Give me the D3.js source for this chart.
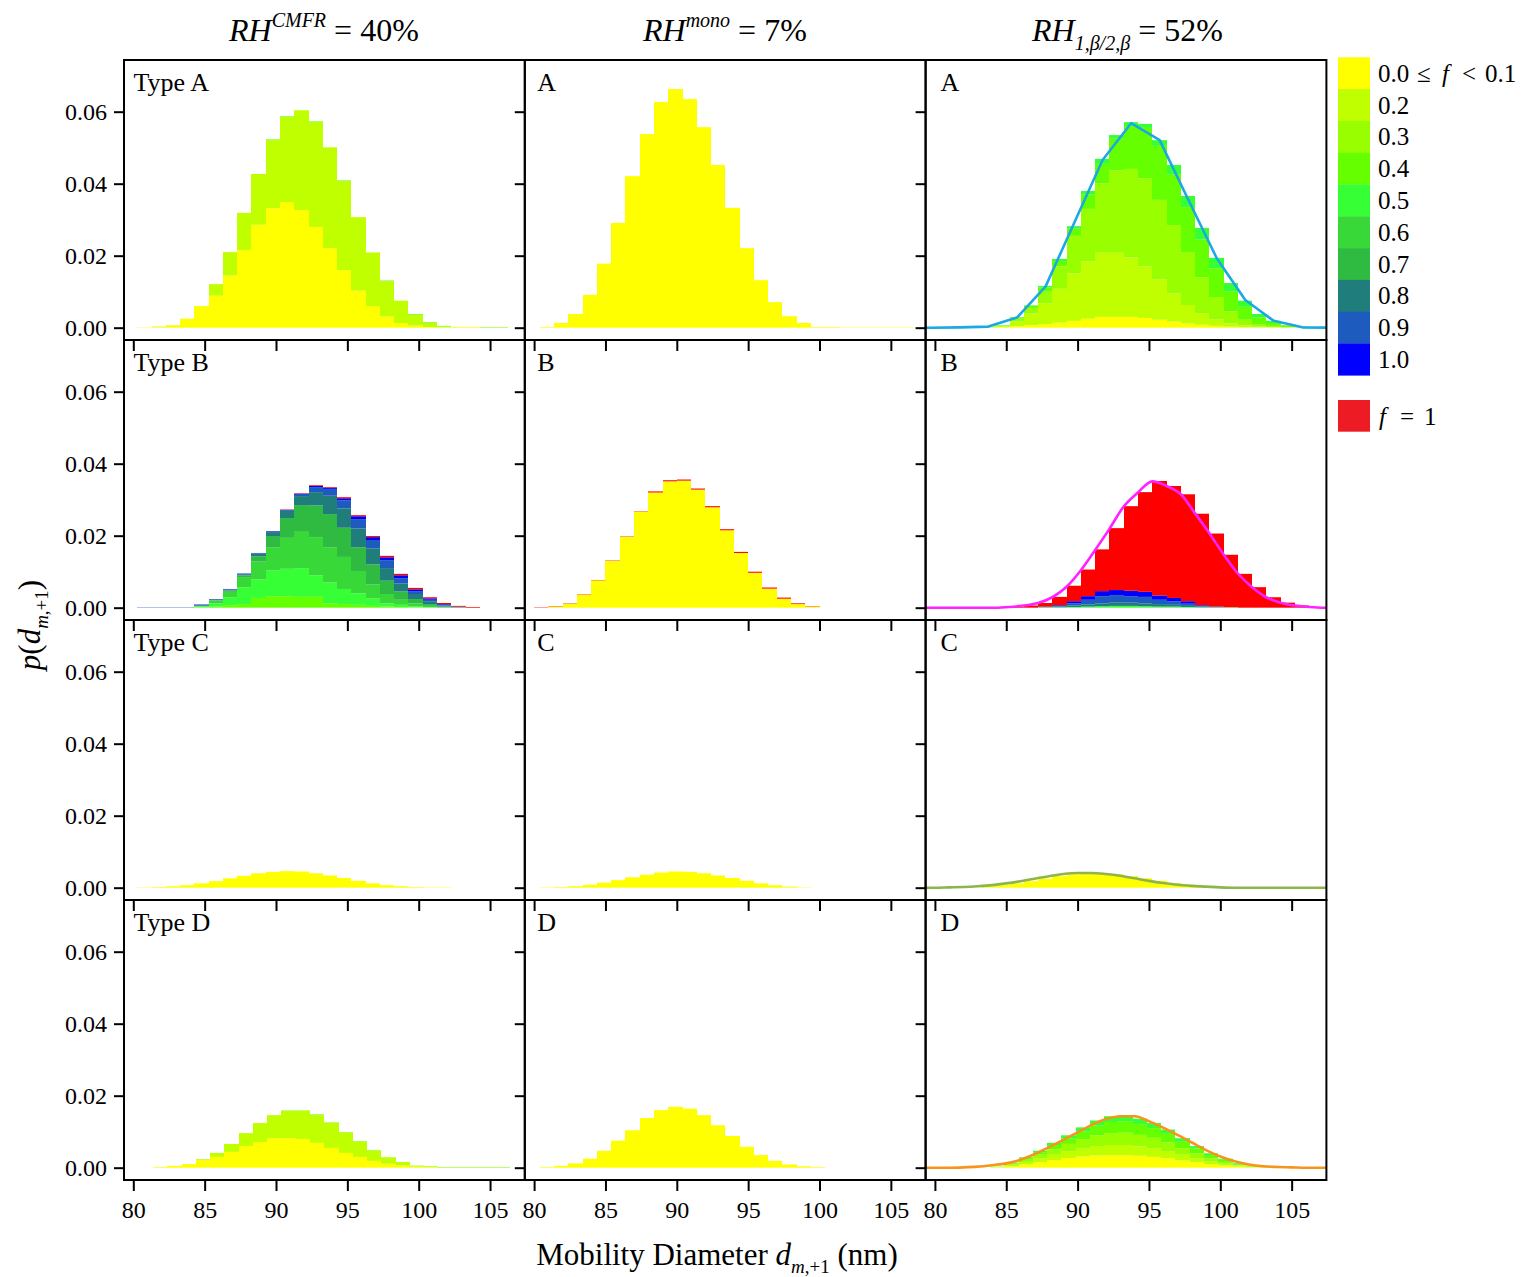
<!DOCTYPE html>
<html>
<head>
<meta charset="utf-8">
<script src="https://cdn.jsdelivr.net/npm/d3@7"></script>
<style>
  body { margin: 0; background: #fff; }
  text { font-family: "Liberation Serif", "Times New Roman", serif; fill: #000; }
</style>
</head>
<body>
<svg id="chart" width="1525" height="1277"></svg>
<script>
// ---------- axes & legend ----------
const xTicks = [80, 85, 90, 95, 100, 105];
const yTicks = [0, 0.02, 0.04, 0.06];
const yTickLabels = ["0.00", "0.02", "0.04", "0.06"];
const classLabels = ["0.0 \u2264 f < 0.1", "0.2", "0.3", "0.4", "0.5", "0.6", "0.7", "0.8", "0.9", "1.0"];
const classColors = ["#ffff00", "#bfff00", "#99ff00", "#66ff00", "#36ff36", "#38d838", "#2fba42", "#1f7d7b", "#1e5bbf", "#0000ff"];
const fullColor = "#ff0000";       // f = 1 in the panels
const fullLegendColor = "#ed1c24";
const rowLabels = [["Type A", "A", "A"], ["Type B", "B", "B"], ["Type C", "C", "C"], ["Type D", "D", "D"]];

// ---------- histogram data: cumulative top of each f-class, one entry per 1 nm bin ----------
// RH_CMFR, type A (bins start at 80.28 nm)
const cmfrA_start = 80.28;
const cmfrA_f1 = [0.0001,0.0002,0.0006,0.0025,0.0060,0.0089,0.0145,0.0216,0.0286,0.0332,0.0349,0.0327,0.0280,0.0221,0.0160,0.0103,0.0060,0.0031,0.0013,0.0006,0.0002,0.0001,0.0002,0.0002,0,0];
const cmfrA_f2 = [0.0001,0.0003,0.0007,0.0025,0.0060,0.0121,0.0210,0.0319,0.0427,0.0521,0.0585,0.0604,0.0571,0.0501,0.0407,0.0307,0.0209,0.0129,0.0075,0.0036,0.0013,0.0004,0.0002,0.0002,0.0001,0.0001];
const cmfrA_f4 = [0.0001,0.0003,0.0007,0.0025,0.0060,0.0121,0.0210,0.0319,0.0427,0.0523,0.0587,0.0604,0.0573,0.0501,0.0409,0.0307,0.0209,0.0131,0.0075,0.0038,0.0015,0.0005,0.0002,0.0002,0.0002,0.0002];

// RH_mono, type A
const monoA_start = 80.4;
const monoA_f1 = [0.0002,0.0013,0.0038,0.0091,0.0178,0.0291,0.0421,0.0538,0.0627,0.0663,0.0635,0.0557,0.0452,0.0333,0.0221,0.0132,0.0071,0.0032,0.0013,0.0002,0.0002,0.0001,0.0001,0.0001,0.0001,0.0001,0.0001];

// RH_1,b/2,b, type A
const rhbA_start = 80.23;
const rhbA_f1 = [0,0,0,0.0001,0.0002,0.0004,0.0007,0.0010,0.0014,0.0019,0.0025,0.0030,0.0030,0.0030,0.0027,0.0022,0.0017,0.0012,0.0008,0.0005,0.0003,0.0002,0.0001,0.0001,0.0001,0.0001];
const rhbA_f2 = [0,0,0,0.0002,0.0004,0.0017,0.0040,0.0068,0.0108,0.0151,0.0184,0.0208,0.0208,0.0195,0.0170,0.0134,0.0095,0.0063,0.0040,0.0023,0.0012,0.0006,0.0003,0.0002,0.0001,0.0001];
const rhbA_f3 = [0,0,0,0.0002,0.0005,0.0025,0.0055,0.0100,0.0170,0.0255,0.0330,0.0401,0.0437,0.0441,0.0415,0.0355,0.0285,0.0210,0.0140,0.0085,0.0045,0.0022,0.0010,0.0005,0.0002,0.0001];
const rhbA_f4 = [0,0,0,0.0003,0.0006,0.0029,0.0062,0.0112,0.0185,0.0275,0.0370,0.0455,0.0525,0.0560,0.0555,0.0505,0.0425,0.0335,0.0245,0.0165,0.0100,0.0058,0.0028,0.0013,0.0005,0.0002];
const rhbA_f5 = [0,0,0,0.0003,0.0007,0.0029,0.0062,0.0116,0.0191,0.0282,0.0380,0.0469,0.0535,0.0571,0.0566,0.0521,0.0452,0.0366,0.0277,0.0194,0.0124,0.0075,0.0038,0.0019,0.0007,0.0003];

// RH_CMFR, type B
const cmfrB_start = 80.28;
const cmfrB_f4  = [0,0,0,0,0.0001,0.0003,0.0007,0.0010,0.0027,0.0032,0.0032,0.0030,0.0030,0.0012,0.0010,0.0008,0.0005,0.0003,0.0002,0.0001,0,0,0,0];
const cmfrB_f5  = [0,0,0,0,0.0004,0.0012,0.0029,0.0057,0.0079,0.0103,0.0108,0.0110,0.0090,0.0070,0.0052,0.0040,0.0026,0.0012,0.0008,0.0004,0.0001,0,0,0];
const cmfrB_f6  = [0,0,0,0,0.0005,0.0020,0.0044,0.0085,0.0128,0.0168,0.0194,0.0213,0.0196,0.0168,0.0141,0.0102,0.0065,0.0038,0.0022,0.0012,0.0005,0.0001,0,0];
const cmfrB_f7  = [0,0,0,0,0.0005,0.0021,0.0048,0.0090,0.0143,0.0199,0.0249,0.0285,0.0284,0.0260,0.0222,0.0168,0.0120,0.0075,0.0045,0.0024,0.0010,0.0003,0.0001,0];
const cmfrB_f8  = [0,0,0,0,0.0007,0.0022,0.0050,0.0093,0.0150,0.0210,0.0269,0.0310,0.0321,0.0311,0.0276,0.0220,0.0165,0.0110,0.0067,0.0038,0.0018,0.0006,0.0002,0];
const cmfrB_f9  = [0.0001,0.0001,0.0001,0.0001,0.0008,0.0023,0.0051,0.0094,0.0151,0.0212,0.0272,0.0316,0.0335,0.0330,0.0298,0.0246,0.0188,0.0132,0.0082,0.0046,0.0022,0.0008,0.0002,0];
const cmfrB_f10 = [0.0001,0.0001,0.0001,0.0001,0.0009,0.0024,0.0052,0.0095,0.0152,0.0213,0.0272,0.0317,0.0338,0.0333,0.0304,0.0254,0.0196,0.0140,0.0090,0.0051,0.0026,0.0010,0.0003,0];
const cmfrB_full = [0.0001,0.0001,0.0001,0.0001,0.0009,0.0024,0.0052,0.0095,0.0152,0.0213,0.0273,0.0318,0.0340,0.0335,0.0307,0.0257,0.0199,0.0144,0.0094,0.0055,0.0029,0.0013,0.0005,0.0002];

// RH_mono, type B
const monoB_start = 80.0;
const monoB_f1 = [0,0.0003,0.0011,0.0036,0.0076,0.0130,0.0197,0.0267,0.0320,0.0351,0.0353,0.0328,0.0279,0.0215,0.0152,0.0097,0.0053,0.0025,0.0010,0.0003];
const monoB_full = [0.0001,0.0004,0.0012,0.0037,0.0077,0.0131,0.0198,0.0268,0.0323,0.0354,0.0356,0.0331,0.0282,0.0218,0.0155,0.0100,0.0056,0.0028,0.0012,0.0004];

// RH_1,b/2,b, type B
const rhbB_start = 80.23;
const rhbB_f5  = [0,0,0,0,0,0,0,0.0001,0.0001,0.0002,0.0003,0.0004,0.0005,0.0005,0.0004,0.0003,0.0003,0.0002,0.0001,0.0001,0.0001];
const rhbB_f8  = [0,0,0,0,0,0,0,0.0002,0.0003,0.0006,0.0009,0.0012,0.0015,0.0014,0.0012,0.0010,0.0008,0.0005,0.0003,0.0001,0.0001];
const rhbB_f9  = [0,0,0,0,0,0,0,0.0002,0.0005,0.0012,0.0022,0.0032,0.0035,0.0032,0.0030,0.0022,0.0018,0.0011,0.0005,0.0002,0.0001];
const rhbB_f10 = [0,0,0,0,0,0,0,0.0003,0.0007,0.0018,0.0032,0.0046,0.0049,0.0047,0.0044,0.0034,0.0027,0.0018,0.0007,0.0003,0.0001];
const rhbB_full = [0,0,0,0,0,0.0002,0.0006,0.0013,0.0030,0.0061,0.0106,0.0162,0.0221,0.0282,0.0321,0.0352,0.0338,0.0315,0.0261,0.0206,0.0147,0.0094,0.0057,0.0029,0.0014,0.0006,0.0002];

// type C
const cmfrC_start = 80.28;
const cmfrC_f1 = [0.0001,0.0002,0.0004,0.0007,0.0012,0.0018,0.0026,0.0033,0.0040,0.0044,0.0046,0.0045,0.0040,0.0034,0.0027,0.0019,0.0012,0.0007,0.0004,0.0002,0.0001,0.0001];
const monoC_start = 80.4;
const monoC_f1 = [0.0001,0.0002,0.0004,0.0008,0.0014,0.0021,0.0029,0.0036,0.0042,0.0045,0.0044,0.0040,0.0034,0.0027,0.0019,0.0012,0.0007,0.0003,0.0001];
const rhbC_start = 80.23;
const rhbC_f1 = [0,0,0,0.0004,0.0007,0.0012,0.0018,0.0025,0.0032,0.0037,0.0040,0.0040,0.0037,0.0032,0.0026,0.0019,0.0013,0.0008,0.0005,0.0003,0.0001];

// type D
const cmfrD_start = 80.38;
const cmfrD_f1 = [0,0.0002,0.0005,0.0010,0.0022,0.0030,0.0044,0.0060,0.0071,0.0082,0.0082,0.0080,0.0069,0.0055,0.0041,0.0030,0.0019,0.0011,0.0006,0.0003,0.0001,0,0,0,0,0];
const cmfrD_f2 = [0,0.0002,0.0005,0.0010,0.0023,0.0041,0.0066,0.0096,0.0124,0.0146,0.0158,0.0158,0.0146,0.0125,0.0098,0.0073,0.0048,0.0029,0.0016,0.0006,0.0004,0.0001,0.0001,0.0001,0.0001,0.0001];
const cmfrD_f4 = [0,0.0002,0.0005,0.0010,0.0024,0.0041,0.0066,0.0096,0.0124,0.0146,0.0159,0.0159,0.0148,0.0126,0.0099,0.0074,0.0049,0.0029,0.0016,0.0006,0.0004,0.0002,0.0002,0.0002,0.0002,0.0002];
const monoD_start = 80.4;
const monoD_f1 = [0.0002,0.0005,0.0012,0.0025,0.0047,0.0075,0.0104,0.0138,0.0160,0.0169,0.0164,0.0146,0.0118,0.0088,0.0058,0.0035,0.0019,0.0009,0.0004,0.0002];
const rhbD_start = 80.86;
const rhbD_f1 = [0,0,0,0.0001,0.0004,0.0009,0.0015,0.0021,0.0027,0.0031,0.0034,0.0035,0.0035,0.0033,0.0030,0.0026,0.0020,0.0015,0.0010,0.0006,0.0003,0.0001,0.0001];
const rhbD_f2 = [0,0,0,0.0002,0.0008,0.0016,0.0026,0.0036,0.0046,0.0054,0.0060,0.0063,0.0063,0.0059,0.0054,0.0046,0.0036,0.0026,0.0017,0.0011,0.0006,0.0003,0.0001];
const rhbD_f3 = [0,0,0,0.0002,0.0011,0.0022,0.0036,0.0051,0.0066,0.0079,0.0090,0.0096,0.0097,0.0091,0.0083,0.0070,0.0054,0.0040,0.0026,0.0016,0.0008,0.0004,0.0002];
const rhbD_f4 = [0,0,0,0.0003,0.0013,0.0027,0.0043,0.0063,0.0081,0.0100,0.0117,0.0127,0.0129,0.0121,0.0110,0.0094,0.0072,0.0053,0.0035,0.0022,0.0011,0.0005,0.0002];
const rhbD_f5 = [0,0,0,0.0003,0.0014,0.0029,0.0047,0.0069,0.0090,0.0112,0.0131,0.0143,0.0145,0.0136,0.0124,0.0106,0.0082,0.0060,0.0040,0.0025,0.0013,0.0006,0.0003];

// ---------- model curves ----------
const curveXA = [77.75,79.75,81.75,83.75,85.75,87.75,89.75,91.75,93.75,95.75,97.75,99.75,101.75,103.75,105.75,107.75];
const curveA = [0,0,0.0001,0.0003,0.0028,0.0114,0.0290,0.0466,0.0568,0.0521,0.0356,0.0193,0.0077,0.0019,0.0001,0];
const curveXB = [78.23,79.23,80.23,81.23,82.23,83.23,84.23,85.23,86.23,87.23,88.23,89.23,90.23,91.23,92.23,93.23,94.23,95.23,96.23,97.23,98.23,99.23,100.23,101.23,102.23,103.23,104.23,105.23,106.23,107.23,108.23];
const curveB = [0,0,0,0,0,0,0,0.0002,0.0006,0.0013,0.0029,0.0058,0.0104,0.0160,0.0219,0.0281,0.0320,0.0351,0.0338,0.0315,0.0262,0.0207,0.0148,0.0095,0.0057,0.0029,0.0014,0.0006,0.0002,0,0];
const curveX1 = [78,79,80,81,82,83,84,85,86,87,88,89,90,91,92,93,94,95,96,97,98,99,100,101,102,103,104,105,106,107,108];
const curveC = [0,0,0,0.0001,0.0002,0.0004,0.0007,0.0012,0.0018,0.0025,0.0032,0.0038,0.0041,0.0041,0.0038,0.0033,0.0026,0.0019,0.0013,0.0008,0.0005,0.0003,0.0001,0,0,0,0,0,0,0,0];
const curveD = [0,0,0,0,0.0001,0.0003,0.0007,0.0012,0.0022,0.0038,0.0057,0.0077,0.0098,0.0119,0.0135,0.0143,0.0143,0.0129,0.0111,0.0091,0.0070,0.0049,0.0031,0.0018,0.0009,0.0004,0.0002,0.0001,0,0,0];

// ---------- panel table (class index 10 = f = 1) ----------
const panels = [
  { row: 0, col: 0, start: cmfrA_start, layers: [[0, cmfrA_f1], [1, cmfrA_f2], [3, cmfrA_f4]] },
  { row: 0, col: 1, start: monoA_start, layers: [[0, monoA_f1]] },
  { row: 0, col: 2, start: rhbA_start, layers: [[0, rhbA_f1], [1, rhbA_f2], [2, rhbA_f3], [3, rhbA_f4], [4, rhbA_f5]] },
  { row: 1, col: 0, start: cmfrB_start, layers: [[3, cmfrB_f4], [4, cmfrB_f5], [5, cmfrB_f6], [6, cmfrB_f7], [7, cmfrB_f8], [8, cmfrB_f9], [9, cmfrB_f10], [10, cmfrB_full]] },
  { row: 1, col: 1, start: monoB_start, layers: [[0, monoB_f1], [10, monoB_full]] },
  { row: 1, col: 2, start: rhbB_start, layers: [[4, rhbB_f5], [7, rhbB_f8], [8, rhbB_f9], [9, rhbB_f10], [10, rhbB_full]] },
  { row: 2, col: 0, start: cmfrC_start, layers: [[0, cmfrC_f1]] },
  { row: 2, col: 1, start: monoC_start, layers: [[0, monoC_f1]] },
  { row: 2, col: 2, start: rhbC_start, layers: [[0, rhbC_f1]] },
  { row: 3, col: 0, start: cmfrD_start, layers: [[0, cmfrD_f1], [1, cmfrD_f2], [3, cmfrD_f4]] },
  { row: 3, col: 1, start: monoD_start, layers: [[0, monoD_f1]] },
  { row: 3, col: 2, start: rhbD_start, layers: [[0, rhbD_f1], [1, rhbD_f2], [2, rhbD_f3], [3, rhbD_f4], [4, rhbD_f5]] }
];
const curves = [
  { row: 0, col: 2, xs: curveXA, ys: curveA, color: "#1aa9e3", smooth: false },
  { row: 1, col: 2, xs: curveXB, ys: curveB, color: "#ff22ff", smooth: true },
  { row: 2, col: 2, xs: curveX1, ys: curveC, color: "#8db54c", smooth: true },
  { row: 3, col: 2, xs: curveX1, ys: curveD, color: "#f7941d", smooth: true }
];

// ---------- layout ----------
const LEFT0 = 124, TOP0 = 60, PW = 400.8, PH = 280;
const xDomain = [79.348, 107.435];
const yDomain = [-0.00342, 0.07436];
const SERIF = '"Liberation Serif", "Times New Roman", serif';
const svg = d3.select("#chart");

function scalesFor(row, col) {
  const x0 = LEFT0 + col * PW, y0 = TOP0 + row * PH;
  return {
    x0, y0,
    x: d3.scaleLinear().domain(xDomain).range([x0, x0 + PW]),
    y: d3.scaleLinear().domain(yDomain).range([y0 + PH, y0])
  };
}
const fillFor = c => (c === 10 ? fullColor : classColors[c]);

const defs = svg.append("defs");
for (let r = 0; r < 4; r++) for (let c = 0; c < 3; c++) {
  const s = scalesFor(r, c);
  defs.append("clipPath").attr("id", `clip-${r}-${c}`)
    .append("rect").attr("x", s.x0).attr("y", s.y0).attr("width", PW).attr("height", PH);
}

// stacked histogram bars
panels.forEach(p => {
  const s = scalesFor(p.row, p.col);
  const n = d3.max(p.layers, l => l[1].length);
  const segs = [];
  for (let k = 0; k < n; k++) {
    let prev = 0;
    const xa = Math.round(s.x(p.start + k)), xb = Math.round(s.x(p.start + k + 1));
    p.layers.forEach(([cls, tops]) => {
      const t = tops[k] || 0;
      if (t > prev) { segs.push({ xa, xb, lo: prev, hi: t, cls }); prev = t; }
    });
  }
  svg.append("g").attr("clip-path", `url(#clip-${p.row}-${p.col})`)
    .selectAll("rect").data(segs).join("rect")
    .attr("x", d => d.xa).attr("width", d => d.xb - d.xa)
    .attr("y", d => s.y(d.hi)).attr("height", d => s.y(d.lo) - s.y(d.hi))
    .attr("fill", d => fillFor(d.cls));
});

// model curves
curves.forEach(cv => {
  const s = scalesFor(cv.row, cv.col);
  const line = d3.line().x((d, i) => s.x(cv.xs[i])).y(d => s.y(d))
    .curve(cv.smooth ? d3.curveMonotoneX : d3.curveLinear);
  svg.append("path").attr("clip-path", `url(#clip-${cv.row}-${cv.col})`)
    .attr("d", line(cv.ys)).attr("fill", "none")
    .attr("stroke", cv.color).attr("stroke-width", 2.6).attr("stroke-linejoin", "round");
});

// axes, frames and panel labels
for (let r = 0; r < 4; r++) for (let c = 0; c < 3; c++) {
  const s = scalesFor(r, c);
  const ay = svg.append("g").attr("transform", `translate(${s.x0},0)`)
    .call(d3.axisLeft(s.y).tickValues(yTicks).tickSize(10).tickPadding(7)
      .tickFormat((d, i) => (c === 0 ? yTickLabels[i] : "")));
  const ax = svg.append("g").attr("transform", `translate(0,${s.y0 + PH})`)
    .call(d3.axisBottom(s.x).tickValues(xTicks).tickSize(11).tickPadding(10)
      .tickFormat(d => (r === 3 ? d : "")));
  [ay, ax].forEach(g => {
    g.select(".domain").remove();
    g.selectAll(".tick line").attr("stroke", "#000").attr("stroke-width", 2);
    g.selectAll(".tick text").style("font-size", "24px").style("font-family", SERIF).attr("fill", "#000");
  });
  svg.append("rect").attr("x", s.x0).attr("y", s.y0).attr("width", PW).attr("height", PH)
    .attr("fill", "none").attr("stroke", "#000").attr("stroke-width", 2);
  svg.append("text").attr("x", s.x0 + [9.5, 12.5, 15][c]).attr("y", s.y0 + 31)
    .style("font-size", "26px").text(rowLabels[r][c]);
}

// column titles
function title(xStart, main, script, scriptUp, rest) {
  const t = svg.append("text").attr("x", xStart).attr("y", 41).style("font-size", "32px");
  t.append("tspan").style("font-style", "italic").text(main);
  t.append("tspan").style("font-style", "italic").style("font-size", "20px")
    .attr("dy", scriptUp ? -14 : 9).text(script);
  t.append("tspan").attr("dy", scriptUp ? 14 : -9).text(rest);
}
title(229, "RH", "CMFR", true, " = 40%");
title(643, "RH", "mono", true, " = 7%");
title(1032, "RH", "1,\u03b2/2,\u03b2", false, " = 52%");

// axis titles: d_{m,+1}
function addSubscriptD(t) {
  t.append("tspan").style("font-style", "italic").text("d");
  t.append("tspan").style("font-style", "italic").style("font-size", "19px").attr("dy", 8).text("m");
  t.append("tspan").style("font-size", "19px").text(",+1");
}
const xt = svg.append("text").attr("x", 717).attr("y", 1265).attr("text-anchor", "middle").style("font-size", "31px");
xt.append("tspan").text("Mobility Diameter ");
addSubscriptD(xt);
xt.append("tspan").attr("dy", -8).text(" (nm)");

const yt = svg.append("text").attr("transform", "translate(40,625) rotate(-90)")
  .attr("text-anchor", "middle").style("font-size", "31px");
yt.append("tspan").style("font-style", "italic").text("p");
yt.append("tspan").text("(");
addSubscriptD(yt);
yt.append("tspan").attr("dy", -8).text(")");

// legend
const LX = 1338, LY = 57.3, LH = 31.8, LW = 32;
const leg = svg.append("g");
leg.selectAll("rect.cls").data(classColors).join("rect").attr("class", "cls")
  .attr("x", LX).attr("y", (d, i) => LY + i * LH).attr("width", LW).attr("height", LH + 0.3)
  .attr("fill", d => d);
classLabels.forEach((lab, i) => {
  const yb = LY + i * LH + LH / 2 + 8.5;
  const t = leg.append("text").attr("y", yb).style("font-size", "25px");
  if (lab.includes("f")) {
    // spaced-out inequality: 0.0 <= f < 0.1
    const bits = lab.split(" ");
    const xs = [1378, 1417, 1442, 1462, 1485];
    bits.forEach((b, j) => {
      t.append("tspan").attr("x", xs[j]).style("font-style", b === "f" ? "italic" : "normal").text(b);
    });
  } else {
    t.attr("x", LX + 40).text(lab);
  }
});
leg.append("rect").attr("x", LX).attr("y", 400).attr("width", LW).attr("height", 31.7).attr("fill", fullLegendColor);
const fl = leg.append("text").attr("y", 424.5).style("font-size", "25px");
fl.append("tspan").attr("x", 1379).style("font-style", "italic").text("f");
fl.append("tspan").attr("x", 1400).text("=");
fl.append("tspan").attr("x", 1424).text("1");
</script>
</body>
</html>
